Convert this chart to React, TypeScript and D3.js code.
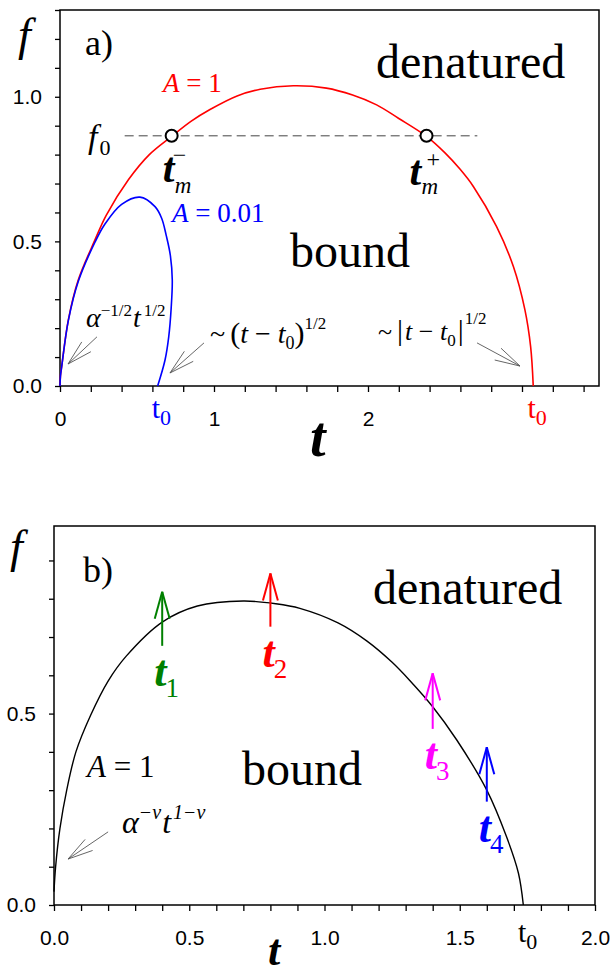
import React, { useEffect, useRef } from 'react';
import * as d3 from 'd3';

// panel a) curves, [t, f]
const redCurve: [number, number][] = [
  [0, 0], [0.003, 0.035], [0.011, 0.067], [0.054, 0.228], [0.119, 0.367], [0.227, 0.505],
  [0.3, 0.59], [0.444, 0.713], [0.58, 0.8], [0.725, 0.863], [0.85, 0.915], [0.974, 0.956],
  [1.15, 1.003], [1.3, 1.026], [1.515, 1.038], [1.73, 1.03], [1.9, 1.006], [2.056, 0.972],
  [2.2, 0.925], [2.38, 0.863], [2.5, 0.806], [2.597, 0.75], [2.684, 0.69], [2.835, 0.551],
  [2.944, 0.413], [3.019, 0.263], [3.056, 0.136], [3.073, 0],
];
const blueCurve: [number, number][] = [
  [0, 0], [0.003, 0.035], [0.011, 0.067], [0.054, 0.226], [0.119, 0.362], [0.227, 0.497],
  [0.292, 0.56], [0.4, 0.628], [0.519, 0.653], [0.617, 0.62], [0.66, 0.58], [0.69, 0.52],
  [0.717, 0.45], [0.729, 0.367], [0.722, 0.27], [0.706, 0.17], [0.682, 0.09], [0.634, 0],
];
// panel b) curve
const blackCurve: [number, number][] = [
  [0, 0.035], [0.006, 0.1], [0.022, 0.2], [0.047, 0.3], [0.081, 0.4], [0.135, 0.495],
  [0.2, 0.585], [0.267, 0.65], [0.4, 0.739], [0.53, 0.781], [0.7, 0.794], [0.82, 0.787],
  [0.909, 0.775], [1.05, 0.737], [1.156, 0.69], [1.25, 0.634], [1.316, 0.586], [1.4, 0.518],
  [1.489, 0.431], [1.6, 0.3], [1.673, 0.178], [1.717, 0.083], [1.735, 0],
];

const f0Value = 0.865;
const f0LineSpan = [0.42, 2.71];
const tmTimes = [0.725, 2.38];

const arrowTimes = [0.4, 0.8, 1.4, 1.6];
const arrowBase = [0.677, 0.727, 0.46, 0.27];
const arrowTip = [0.818, 0.866, 0.605, 0.412];
const arrowColors = ['#008000', '#ff0000', '#ff00ff', '#0000ff'];
const arrowNames = ['1', '2', '3', '4'];

const topXLabelValues = [0, 1, 2];
const topXLabels = ['0', '1', '2'];
const topYLabelValues = [0, 0.5, 1];
const topYLabels = ['0.0', '0.5', '1.0'];
const botXLabelValues = [0, 0.5, 1, 1.5, 2];
const botXLabels = ['0.0', '0.5', '1.0', '1.5', '2.0'];
const botYLabelValues = [0, 0.5];
const botYLabels = ['0.0', '0.5'];

const SERIF = '"Liberation Serif", "Times New Roman", serif';
const SANS = '"Liberation Sans", Arial, sans-serif';

type Part = { s: string; size: number; it?: boolean; b?: boolean; dx?: number; dy?: number };

function richText(g: any, x: number, y: number, parts: Part[], fill = '#000', anchor = 'start') {
  const t = g.append('text').attr('x', x).attr('y', y).attr('fill', fill)
    .attr('font-family', SERIF).attr('text-anchor', anchor);
  parts.forEach(p => {
    t.append('tspan').text(p.s)
      .attr('font-size', p.size)
      .attr('font-style', p.it ? 'italic' : 'normal')
      .attr('font-weight', p.b ? 'bold' : 'normal')
      .attr('dx', p.dx || 0)
      .attr('dy', p.dy || 0);
  });
}

function labelFor(values: number[], labels: string[]) {
  return (d: number) => {
    const i = values.findIndex(v => Math.abs(v - d) < 1e-6);
    return i >= 0 ? labels[i] : '';
  };
}

// thin open arrow (shaft + two barbs)
function arrow(g: any, x1: number, y1: number, x2: number, y2: number, color: string, width: number, len: number, ang: number) {
  g.append('line').attr('x1', x1).attr('y1', y1).attr('x2', x2).attr('y2', y2)
    .attr('stroke', color).attr('stroke-width', width);
  const a = Math.atan2(y1 - y2, x1 - x2);
  [-ang, ang].forEach(da => {
    g.append('line').attr('x1', x2).attr('y1', y2)
      .attr('x2', x2 + len * Math.cos(a + da)).attr('y2', y2 + len * Math.sin(a + da))
      .attr('stroke', color).attr('stroke-width', width);
  });
}

function drawFrame(g: any, x: any, y: any, xTicks: number[], xFmt: any, yTicks: number[], yFmt: any, padX: number, padY: number) {
  const [x0, x1] = x.range();
  const [y0, y1] = y.range();
  const ax = g.append('g').attr('transform', `translate(0,${y0})`)
    .call(d3.axisBottom(x).tickValues(xTicks).tickFormat(xFmt).tickSize(6).tickPadding(padX));
  const ay = g.append('g').attr('transform', `translate(${x0},0)`)
    .call(d3.axisLeft(y).tickValues(yTicks).tickFormat(yFmt).tickSize(5).tickPadding(padY));
  [ax, ay].forEach(a => {
    a.select('.domain').remove();
    a.selectAll('.tick line').attr('stroke', '#000').attr('stroke-width', 1.3);
    a.selectAll('.tick text').attr('font-family', SANS).attr('font-size', 21).attr('fill', '#000');
  });
  g.append('rect').attr('x', x0).attr('y', y1).attr('width', x1 - x0).attr('height', y0 - y1)
    .attr('fill', 'none').attr('stroke', '#000').attr('stroke-width', 1.5);
}

const App = () => {
  const ref = useRef<SVGSVGElement>(null);

  useEffect(() => {
    const svg = d3.select(ref.current);
    svg.selectAll('*').remove();

    const line = (x: any, y: any) => d3.line<[number, number]>()
      .x(d => x(d[0])).y(d => y(d[1]))
      .curve(d3.curveCatmullRom.alpha(0.5));

    // ---------- panel a ----------
    const xa = d3.scaleLinear().domain([0, 3.5]).range([60, 599]);
    const ya = d3.scaleLinear().domain([0, 1.3]).range([386, 10]);
    const ga = svg.append('g');
    drawFrame(ga, xa, ya, d3.range(0, 3.41, 0.2), labelFor(topXLabelValues, topXLabels),
      d3.range(0, 1.31, 0.1), labelFor(topYLabelValues, topYLabels), 19, 13);

    ga.append('line')
      .attr('x1', xa(f0LineSpan[0])).attr('x2', xa(f0LineSpan[1]))
      .attr('y1', ya(f0Value)).attr('y2', ya(f0Value))
      .attr('stroke', '#444').attr('stroke-width', 1).attr('stroke-dasharray', '9,5');

    ga.append('path').attr('d', line(xa, ya)(redCurve)).attr('fill', 'none')
      .attr('stroke', '#ff0000').attr('stroke-width', 1.6);
    ga.append('path').attr('d', line(xa, ya)(blueCurve)).attr('fill', 'none')
      .attr('stroke', '#0000ff').attr('stroke-width', 1.6);

    tmTimes.forEach(t => {
      ga.append('circle').attr('cx', xa(t)).attr('cy', ya(f0Value)).attr('r', 6)
        .attr('fill', '#fff').attr('stroke', '#000').attr('stroke-width', 2);
    });

    // labels panel a
    richText(ga, 18, 50, [{ s: 'f', size: 46, it: true }]);
    richText(ga, 85, 55, [{ s: 'a)', size: 36 }]);
    richText(ga, 376, 78, [{ s: 'denatured', size: 48 }]);
    richText(ga, 290, 267, [{ s: 'bound', size: 48 }]);
    richText(ga, 163, 92, [{ s: 'A', size: 27, it: true }, { s: ' = 1', size: 27 }], '#ff0000');
    richText(ga, 172, 222, [{ s: 'A', size: 27, it: true }, { s: ' = 0.01', size: 27 }], '#0000ff');
    richText(ga, 88, 148, [{ s: 'f', size: 34, it: true }, { s: '0', size: 22, dx: 2, dy: 7 }]);

    const cm = xa(tmTimes[0]);
    const cp = xa(tmTimes[1]);
    richText(ga, cm - 9, 182, [{ s: 't', size: 42, it: true, b: true }]);
    richText(ga, cm + 3, 193, [{ s: 'm', size: 23, it: true }]);
    richText(ga, cm + 1, 163, [{ s: '\u2212', size: 24 }]);
    richText(ga, cp - 17, 185, [{ s: 't', size: 42, it: true, b: true }]);
    richText(ga, cp - 5, 194, [{ s: 'm', size: 23, it: true }]);
    richText(ga, cp + 0, 167, [{ s: '+', size: 24 }]);

    // asymptotic annotations
    richText(ga, 86, 327, [
      { s: '\u03b1', size: 28, it: true },
      { s: '\u22121/2', size: 17, dy: -11 },
      { s: 't', size: 28, it: true, dy: 11, dx: 1 },
      { s: '1/2', size: 17, dy: -11, dx: 3 },
    ]);
    arrow(ga, xa(0.24), ya(0.17), xa(0.052), ya(0.076), '#555', 0.9, 26, 0.26);

    richText(ga, 210, 343, [
      { s: '~', size: 28 },
      { s: '(', size: 30, dx: 5 },
      { s: 't', size: 28, it: true },
      { s: ' \u2212 ', size: 28 },
      { s: 't', size: 28, it: true },
      { s: '0', size: 18, dy: 6 },
      { s: ')', size: 30, dy: -6 },
      { s: '1/2', size: 17, dy: -14 },
    ]);
    arrow(ga, xa(0.935), ya(0.149), xa(0.714), ya(0.045), '#555', 0.9, 26, 0.26);

    richText(ga, 378, 340, [
      { s: '~', size: 26 },
      { s: '|', size: 30, dx: 5 },
      { s: 't', size: 26, it: true, dx: 2 },
      { s: ' \u2212 ', size: 26 },
      { s: 't', size: 26, it: true },
      { s: '0', size: 17, dy: 6 },
      { s: '|', size: 30, dy: -6, dx: 2 },
      { s: '1/2', size: 17, dy: -16, dx: 1 },
    ]);
    arrow(ga, xa(2.708), ya(0.149), xa(2.987), ya(0.069), '#555', 0.9, 26, 0.26);

    // coloured t0 labels on the axis
    richText(ga, xa(0.595), 418, [{ s: 't', size: 30 }, { s: '0', size: 22, dy: 7 }], '#0000ff');
    richText(ga, xa(3.035), 418, [{ s: 't', size: 30 }, { s: '0', size: 22, dy: 7 }], '#ff0000');
    richText(ga, 310, 456, [{ s: 't', size: 56, it: true, b: true }]);

    // ---------- panel b ----------
    const xb = d3.scaleLinear().domain([0, 2]).range([54, 595]);
    const yb = d3.scaleLinear().domain([0, 0.99]).range([905, 526]);
    const gb = svg.append('g');
    drawFrame(gb, xb, yb, d3.range(0, 2.01, 0.1), labelFor(botXLabelValues, botXLabels),
      d3.range(0, 0.91, 0.1), labelFor(botYLabelValues, botYLabels), 19, 13);

    gb.append('path').attr('d', line(xb, yb)(blackCurve)).attr('fill', 'none')
      .attr('stroke', '#000').attr('stroke-width', 1.4);

    arrowTimes.forEach((t, i) => {
      arrow(gb, xb(t), yb(arrowBase[i]), xb(t), yb(arrowTip[i]), arrowColors[i], 2, 28, 0.27);
      richText(gb, xb(t) - 8, yb(arrowBase[i]) + 40, [
        { s: 't', size: 44, it: true, b: true },
        { s: arrowNames[i], size: 27, dx: -1, dy: 11 },
      ], arrowColors[i]);
    });

    richText(gb, 10, 562, [{ s: 'f', size: 46, it: true }]);
    richText(gb, 83, 582, [{ s: 'b)', size: 36 }]);
    richText(gb, 373, 604, [{ s: 'denatured', size: 48 }]);
    richText(gb, 242, 785, [{ s: 'bound', size: 48 }]);
    richText(gb, 87, 777, [{ s: 'A', size: 31, it: true }, { s: ' = 1', size: 31 }]);
    richText(gb, 122, 833, [
      { s: '\u03b1', size: 32, it: true },
      { s: '\u2212\u03bd', size: 20, it: true, dy: -14 },
      { s: 't', size: 32, it: true, dy: 14, dx: 1 },
      { s: '1\u2212\u03bd', size: 20, it: true, dy: -14, dx: 2 },
    ]);
    arrow(gb, xb(0.2), yb(0.191), xb(0.052), yb(0.12), '#555', 0.9, 26, 0.26);

    richText(gb, xb(1.715), 942, [{ s: 't', size: 30 }, { s: '0', size: 22, dy: 7 }]);
    richText(gb, 268, 965, [{ s: 't', size: 44, it: true, b: true }]);
  }, []);

  return (
    <svg ref={ref} width={613} height={977}
      style={{ position: 'absolute', left: 0, top: 0, background: '#fff' }} />
  );
};

export default App;
